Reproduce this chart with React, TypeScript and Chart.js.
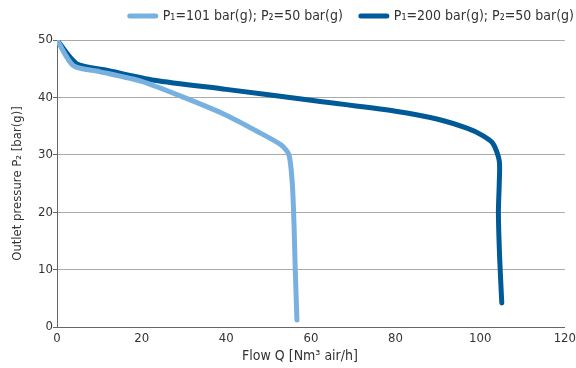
import React, { useEffect, useRef } from "react";
import { Chart, registerables } from "chart.js";

Chart.register(...registerables);

const seriesLabels = ["P\u2081=101 bar(g); P\u2082=50 bar(g)", "P\u2081=200 bar(g); P\u2082=50 bar(g)"];
const lowFlowX = [0, 3.9, 10, 20, 30, 40, 47, 53, 54.8, 55.6, 56, 56.3, 56.7];
const lowPressY = [50, 45.5, 44.5, 42.8, 40.0, 36.9, 34.2, 31.7, 30, 25, 18, 10, 1.2];
const highFlowX = [0, 4.6, 12, 23, 40, 60, 80, 90, 97, 100.5, 103, 104.5, 104.5, 104.3, 104.6, 105.1];
const highPressY = [50, 45.9, 44.7, 43.0, 41.4, 39.5, 37.6, 36.2, 34.6, 33.4, 32.0, 29.0, 25, 20, 12, 4.2];
const xTitle = "Flow Q [Nm\u00b3 air/h]";
const yTitle = "Outlet pressure P\u2082 [bar(g)]";

const FONT = "'DejaVu Sans Condensed', 'DejaVu Sans', sans-serif";
const LIGHT = "#78b0e0";
const DARK = "#005a98";
const TEXT = "#333";

const legendAndTitle = {
  id: "legendAndTitle",
  afterDraw(chart: any) {
    const ctx = chart.ctx;
    ctx.save();
    ctx.font = `14px ${FONT}`;
    ctx.textBaseline = "middle";
    ctx.textAlign = "left";
    const dss = chart.data.datasets;
    const y = 16;
    let right = 574;
    for (let i = dss.length - 1; i >= 0; i--) {
      const ds = dss[i];
      const w = ctx.measureText(ds.label).width;
      const tx = right - w;
      const bx = tx - 5 - 30;
      ctx.fillStyle = TEXT;
      ctx.fillText(ds.label, tx, y);
      ctx.strokeStyle = ds.borderColor;
      ctx.lineWidth = 5;
      ctx.lineCap = "round";
      ctx.beginPath();
      ctx.moveTo(bx + 2, y);
      ctx.lineTo(bx + 28, y);
      ctx.stroke();
      right = bx - 16;
    }
    ctx.textAlign = "center";
    ctx.fillStyle = TEXT;
    ctx.fillText(xTitle, 300, 356);
    ctx.restore();
  },
};

export default function App() {
  const ref = useRef<HTMLCanvasElement>(null);
  useEffect(() => {
    const toPts = (xs: number[], ys: number[]) => xs.map((x, i) => ({ x, y: ys[i] }));
    const common = {
      borderWidth: 5,
      pointRadius: 0,
      tension: 0.25,
      borderCapStyle: "round",
      borderJoinStyle: "round",
    };
    const chart = new Chart(ref.current!, {
      type: "line",
      data: {
        datasets: [
          { label: seriesLabels[0], data: toPts(lowFlowX, lowPressY), borderColor: LIGHT, backgroundColor: LIGHT, ...common } as any,
          { label: seriesLabels[1], data: toPts(highFlowX, highPressY), borderColor: DARK, backgroundColor: DARK, ...common } as any,
        ],
      },
      plugins: [legendAndTitle],
      options: {
        animation: false,
        responsive: true,
        maintainAspectRatio: false,
        layout: { padding: { left: 0, right: 0, top: 40, bottom: 0 } },
        plugins: {
          tooltip: { enabled: false },
          legend: { display: false },
        },
        scales: {
          x: {
            type: "linear",
            min: 0,
            max: 120,
            afterFit(s: any) {
              s.height = 41;
            },
            ticks: { stepSize: 20, color: TEXT, font: { family: FONT, size: 13 }, padding: 0 },
            grid: { display: false, drawTicks: true, tickLength: 4 },
            border: { color: "#666", width: 1 },
            title: { display: false },
          },
          y: {
            min: 0,
            max: 50,
            afterFit(s: any) {
              s.width = 57;
            },
            ticks: { stepSize: 10, color: TEXT, font: { family: FONT, size: 13 }, padding: 0 },
            grid: { color: "#aaa", tickLength: 4, tickColor: "#666" },
            border: { color: "#666", width: 1 },
            title: { display: true, text: yTitle, color: TEXT, font: { family: FONT, size: 13 }, padding: { top: 10, bottom: 0 } },
          },
        },
      } as any,
    });
    return () => chart.destroy();
  }, []);
  return (
    <div style={{ position: "fixed", left: 0, top: 0, width: 576, height: 368, background: "#fff" }}>
      <canvas ref={ref} />
    </div>
  );
}
